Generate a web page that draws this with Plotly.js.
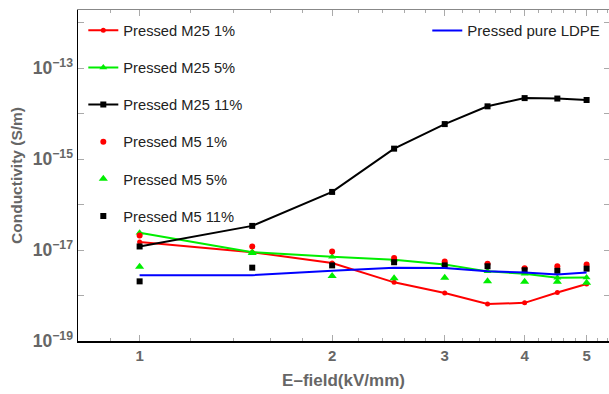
<!DOCTYPE html>
<html>
<head>
<meta charset="utf-8">
<script src="https://cdn.plot.ly/plotly-3.0.1.min.js"></script>
<style>html,body{margin:0;padding:0;background:#fff;}#chart{width:609px;height:394px;}</style>
</head>
<body>
<div id="chart"></div>
<script>
// E-field (kV/mm)
const efield = [1, 1.5, 2, 2.5, 3, 3.5, 4, 4.5, 5];

// Conductivity (S/m)
const m25_1  = [1.5e-17, 9e-18, 5.2e-18, 1.95e-18, 1.14e-18, 6.5e-19, 6.9e-19, 1.17e-18, 1.8e-18];
const m25_5  = [2.4e-17, 9e-18, 7.1e-18, 6.1e-18, 4.8e-18, 3.4e-18, 3.0e-18, 2.45e-18, 2.5e-18];
const m25_11 = [1.2e-17, 3.4e-17, 1.9e-16, 1.7e-15, 5.9e-15, 1.45e-14, 2.2e-14, 2.15e-14, 2.0e-14];
const m5_1   = [2.1e-17, 1.2e-17, 9.3e-18, 6.7e-18, 5.6e-18, 5.0e-18, 4.0e-18, 4.4e-18, 4.8e-18];
const m5_5   = [4.3e-18, 8.6e-18, 2.7e-18, 2.4e-18, 2.45e-18, 2.05e-18, 2.0e-18, 2.0e-18, 1.9e-18];
const m5_11  = [2.05e-18, 4.1e-18, 4.6e-18, 5.4e-18, 4.6e-18, 4.4e-18, 3.6e-18, 3.5e-18, 3.9e-18];
const ldpe   = [2.8e-18, 2.8e-18, 3.5e-18, 4.1e-18, 4.05e-18, 3.4e-18, 3.2e-18, 2.9e-18, 3.2e-18];

const xTicks = [1, 2, 3, 4, 5];
const xTickText = ['1', '2', '3', '4', '5'];
const xMinor = [0.8, 0.9, 1.2, 1.4, 1.6, 1.8, 2.2, 2.4, 2.6, 2.8, 3.2, 3.4, 3.6, 3.8, 4.2, 4.4, 4.6, 4.8, 5.2, 5.4];
const yTicks = [1e-19, 1e-17, 1e-15, 1e-13];
const yTickText = ['10<sup>\u221219</sup>', '10<sup>\u221217</sup>', '10<sup>\u221215</sup>', '10<sup>\u221213</sup>'];
const yMinor = [1e-18, 1e-16, 1e-14, 1e-12];

const names = ['Pressed M25 1%', 'Pressed M25 5%', 'Pressed M25 11%', 'Pressed M5 1%', 'Pressed M5 5%', 'Pressed M5 11%', 'Pressed pure LDPE'];

const traces = [
  {x: efield, y: m25_1, name: names[0], mode: 'lines+markers', line: {color: '#ff0000', width: 2}, marker: {symbol: 'circle', size: 5, color: '#ff0000'}, legendgroup: 'a'},
  {x: efield, y: m25_5, name: names[1], mode: 'lines+markers', line: {color: '#00ee00', width: 2}, marker: {symbol: 'triangle-up', size: 7, color: '#00ee00'}, legendgroup: 'b'},
  {x: efield, y: m25_11, name: names[2], mode: 'lines+markers', line: {color: '#000000', width: 2}, marker: {symbol: 'square', size: 6, color: '#000000'}, legendgroup: 'c'},
  {x: efield, y: m5_1, name: names[3], mode: 'markers', marker: {symbol: 'circle', size: 6, color: '#ff0000'}, legendgroup: 'd'},
  {x: efield, y: m5_5, name: names[4], mode: 'markers', marker: {symbol: 'triangle-up', size: 8, color: '#00ee00'}, legendgroup: 'e'},
  {x: efield, y: m5_11, name: names[5], mode: 'markers', marker: {symbol: 'square', size: 6, color: '#000000'}, legendgroup: 'f'},
  {x: efield, y: ldpe, name: names[6], mode: 'lines', line: {color: '#0000ff', width: 2}, legend: 'legend2'},
  // helper for the mirrored top/right axes
  {x: [efield[0]], y: [ldpe[0]], xaxis: 'x2', yaxis: 'y2', mode: 'markers', marker: {opacity: 0}, showlegend: false, hoverinfo: 'skip'}
];

const FAM = 'Liberation Sans, Arial, sans-serif';
const xRange = [Math.log10(0.801), Math.log10(5.42)];
const yRange = [-19, -11.72];

const layout = {
  width: 609, height: 394,
  margin: {l: 78, r: 0, t: 10, b: 53},
  paper_bgcolor: '#ffffff', plot_bgcolor: '#ffffff',
  font: {family: FAM, color: '#222222'},
  showlegend: true,
  xaxis: {
    type: 'log', range: xRange,
    tickmode: 'array', tickvals: xTicks, ticktext: xTickText,
    ticks: 'inside', ticklen: 6, tickcolor: '#aaaaaa', tickwidth: 1,
    minor: {tickmode: 'array', tickvals: xMinor, ticks: 'inside', ticklen: 3, tickcolor: '#aaaaaa'},
    showgrid: false, zeroline: false,
    showline: true, linecolor: '#000000', linewidth: 1.5,
    tickfont: {family: FAM, size: 15, color: '#666666', weight: 'bold'},
    title: {text: 'E\u2013field(kV/mm)', font: {family: FAM, size: 17, color: '#666666', weight: 'bold'}, standoff: 11}
  },
  yaxis: {
    type: 'log', range: yRange,
    tickmode: 'array', tickvals: yTicks, ticktext: yTickText,
    ticks: 'inside', ticklen: 6, tickcolor: '#aaaaaa',
    minor: {tickmode: 'array', tickvals: yMinor, ticks: 'inside', ticklen: 6, tickcolor: '#aaaaaa'},
    showgrid: false, zeroline: false,
    showline: true, linecolor: '#000000', linewidth: 1.5,
    tickfont: {family: FAM, size: 17.5, color: '#666666', weight: 'bold'},
    title: {text: 'Conductivity (S/m)', font: {family: FAM, size: 15.5, color: '#666666', weight: 'bold'}, standoff: 6}
  },
  xaxis2: {
    type: 'log', range: xRange, overlaying: 'x', side: 'top', anchor: 'y',
    tickmode: 'array', tickvals: xTicks, showticklabels: false,
    ticks: 'inside', ticklen: 6, tickcolor: '#aaaaaa',
    minor: {tickmode: 'array', tickvals: xMinor, ticks: 'inside', ticklen: 3, tickcolor: '#aaaaaa'},
    showgrid: false, zeroline: false, showline: true, linecolor: '#888888', linewidth: 1.5
  },
  yaxis2: {
    type: 'log', range: yRange, overlaying: 'y', side: 'right', anchor: 'x',
    tickmode: 'array', tickvals: yTicks, showticklabels: false,
    ticks: 'inside', ticklen: 5, tickcolor: '#aaaaaa',
    minor: {tickmode: 'array', tickvals: yMinor, ticks: 'inside', ticklen: 5, tickcolor: '#aaaaaa'},
    showgrid: false, zeroline: false, showline: false
  },
  legend: {
    x: 0.01, y: 0.987, xanchor: 'left', yanchor: 'top',
    bgcolor: 'rgba(0,0,0,0)', borderwidth: 0,
    traceorder: 'grouped', tracegroupgap: 15,
    font: {size: 14.7, color: '#222222'}
  },
  legend2: {
    x: 0.993, y: 0.987, xanchor: 'right', yanchor: 'top',
    bgcolor: 'rgba(0,0,0,0)', borderwidth: 0,
    font: {size: 15, color: '#222222'}
  }
};

Plotly.newPlot('chart', traces, layout, {displayModeBar: false, staticPlot: true});
</script>
</body>
</html>
